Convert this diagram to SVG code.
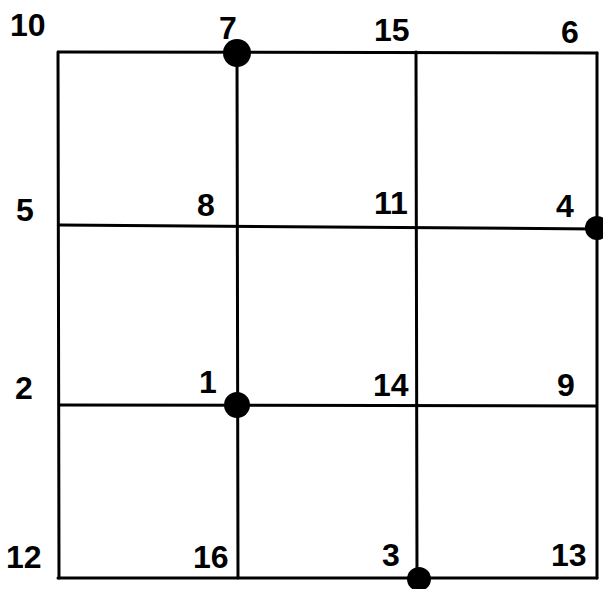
<svg xmlns="http://www.w3.org/2000/svg" width="603" height="589" viewBox="0 0 603 589">
<style>
.ln{stroke:#000;stroke-width:3;fill:none;stroke-linecap:round}
.lb{font-family:"Liberation Sans","DejaVu Sans",sans-serif;font-weight:bold;font-size:32px;fill:#000}
.dot{fill:#000}
</style>
<rect width="603" height="589" fill="#fff"/>
<g id="connectors">
<line class="ln" x1="59" y1="52" x2="597" y2="53"/>
<line class="ln" x1="60" y1="225" x2="597" y2="229"/>
<line class="ln" x1="60" y1="405" x2="596" y2="406"/>
<line class="ln" x1="58" y1="578" x2="597" y2="578"/>
<line class="ln" x1="58" y1="52" x2="59" y2="578"/>
<line class="ln" x1="237" y1="53" x2="238" y2="578"/>
<line class="ln" x1="416" y1="52" x2="417" y2="578"/>
<line class="ln" x1="597" y1="53" x2="597" y2="578"/>
</g>
<g id="n10"><text class="lb" x="10" y="36">10</text></g>
<g id="n7"><text class="lb" x="219" y="39">7</text><circle class="dot" cx="237" cy="53" r="14"/></g>
<g id="n15"><text class="lb" x="374" y="41">15</text></g>
<g id="n6"><text class="lb" x="561" y="43">6</text></g>
<g id="n5"><text class="lb" x="16" y="221">5</text></g>
<g id="n8"><text class="lb" x="197" y="216">8</text></g>
<g id="n11"><text class="lb" x="374" y="214">11</text></g>
<g id="n4"><text class="lb" x="556" y="217">4</text><circle class="dot" cx="597" cy="228" r="12"/></g>
<g id="n2"><text class="lb" x="15" y="399">2</text></g>
<g id="n1"><text class="lb" x="199" y="393">1</text><circle class="dot" cx="237" cy="405" r="13"/></g>
<g id="n14"><text class="lb" x="373" y="396">14</text></g>
<g id="n9"><text class="lb" x="557" y="396">9</text></g>
<g id="n12"><text class="lb" x="6" y="568">12</text></g>
<g id="n16"><text class="lb" x="193" y="568">16</text></g>
<g id="n3"><text class="lb" x="382" y="566">3</text><circle class="dot" cx="419" cy="579" r="12"/></g>
<g id="n13"><text class="lb" x="551" y="566">13</text></g>
</svg>
